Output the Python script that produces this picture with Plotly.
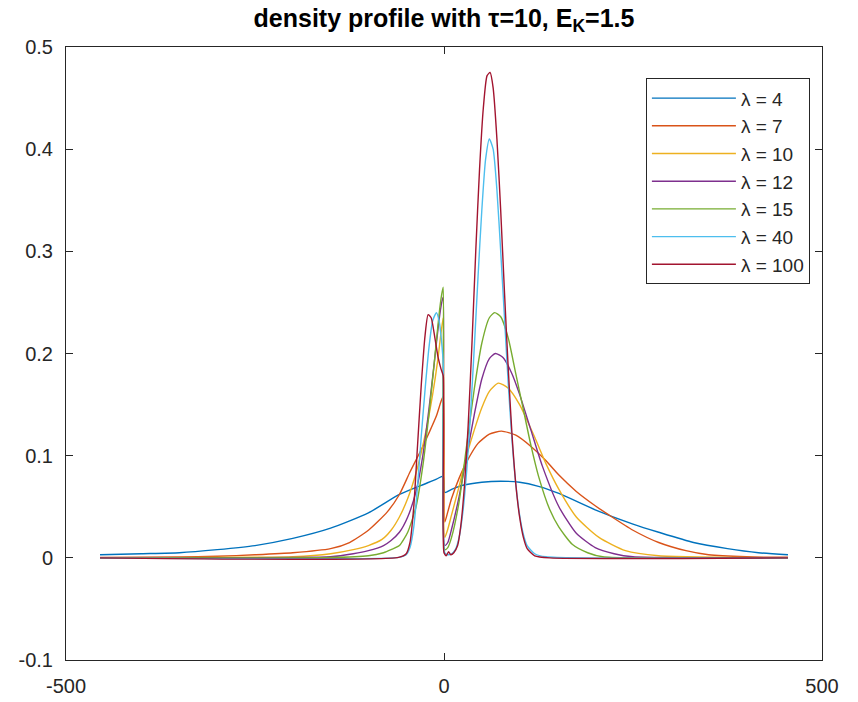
import plotly.graph_objects as go

# ---------------- data ----------------
labels = ["λ = 4", "λ = 7", "λ = 10", "λ = 12", "λ = 15", "λ = 40", "λ = 100"]
colors = ["#0072BD", "#D95319", "#EDB120", "#7E2F8E", "#77AC30", "#4DBEEE", "#A2142F"]

x_l4 = [-455, -400, -350, -300, -250, -200, -150, -100, -59, -30, -10, -1,
        1, 10, 25, 50, 75, 100, 125, 152, 200, 250, 284, 330, 375, 416, 455]
y_l4 = [0.003, 0.004, 0.005, 0.008, 0.012, 0.019, 0.029, 0.044, 0.062, 0.071, 0.077, 0.080,
        0.064, 0.067, 0.071, 0.074, 0.075, 0.074, 0.070, 0.063, 0.047, 0.033, 0.025, 0.015, 0.009, 0.005, 0.003]

x_l7 = [-455, -350, -300, -250, -200, -150, -125, -100, -75, -59, -45, -30, -20, -10, -4, -1,
        1, 5, 10, 20, 30, 45, 60, 76, 95, 115, 135, 152, 175, 200, 218, 250, 284, 320, 350, 400, 455]
y_l7 = [0.0003, 0.0008, 0.0015, 0.003, 0.005, 0.009, 0.015, 0.027, 0.045, 0.062, 0.084, 0.106, 0.122, 0.139, 0.153, 0.158,
        0.035, 0.045, 0.058, 0.078, 0.094, 0.112, 0.121, 0.124, 0.120, 0.109, 0.095, 0.081, 0.065, 0.051, 0.042, 0.027, 0.015, 0.007, 0.003, 0.001, 0.0005]

x_l10 = [-455, -250, -200, -150, -120, -100, -82, -70, -59, -48, -37, -25, -15, -8, -4, -1,
         1, 5, 10, 20, 30, 40, 50, 60, 72, 85, 100, 120, 135, 152, 175, 205, 240, 284, 455]
y_l10 = [0.0, 0.0005, 0.001, 0.004, 0.008, 0.012, 0.018, 0.027, 0.040, 0.058, 0.083, 0.120, 0.160, 0.195, 0.220, 0.235,
         0.020, 0.028, 0.042, 0.070, 0.100, 0.125, 0.147, 0.163, 0.171, 0.166, 0.150, 0.118, 0.092, 0.067, 0.040, 0.020, 0.007, 0.002, 0.0]

x_l12 = [-455, -200, -150, -120, -100, -80, -70, -59, -48, -37, -28, -20, -13, -7, -3, -1,
         1, 5, 10, 20, 30, 40, 50, 60, 68, 78, 90, 100, 115, 130, 152, 175, 200, 225, 250, 455]
y_l12 = [0.0, 0.0003, 0.001, 0.004, 0.007, 0.012, 0.017, 0.025, 0.040, 0.065, 0.100, 0.145, 0.190, 0.230, 0.250, 0.255,
         0.012, 0.015, 0.028, 0.060, 0.100, 0.140, 0.175, 0.195, 0.200, 0.196, 0.180, 0.160, 0.125, 0.090, 0.050, 0.024, 0.010, 0.004, 0.001, 0.0]

x_l15 = [-455, -150, -100, -80, -70, -59, -48, -37, -28, -20, -13, -7, -3, -1,
         1, 5, 10, 20, 30, 40, 50, 60, 67, 75, 85, 95, 105, 115, 125, 140, 152, 170, 190, 210, 455]
y_l15 = [0.0, 0.0003, 0.002, 0.005, 0.008, 0.012, 0.025, 0.050, 0.090, 0.140, 0.190, 0.235, 0.258, 0.265,
         0.008, 0.010, 0.020, 0.055, 0.110, 0.165, 0.210, 0.235, 0.240, 0.236, 0.215, 0.180, 0.145, 0.110, 0.080, 0.047, 0.030, 0.013, 0.005, 0.001, 0.0]

x_l40 = [-455, -60, -50, -45, -40, -35, -30, -25, -20, -15, -10, -6, -3, -1,
         1, 5, 10, 15, 20, 25, 30, 35, 40, 45, 50, 55, 60, 65, 70, 75, 80, 85, 90, 95, 100, 105, 110, 120, 135, 455]
y_l40 = [0.0, 0.0005, 0.003, 0.010, 0.030, 0.070, 0.120, 0.165, 0.205, 0.232, 0.240, 0.230, 0.210, 0.190,
         0.005, 0.003, 0.004, 0.008, 0.020, 0.045, 0.085, 0.140, 0.205, 0.275, 0.340, 0.390, 0.410, 0.400, 0.360, 0.300,
         0.235, 0.170, 0.115, 0.072, 0.042, 0.023, 0.012, 0.004, 0.001, 0.0]

x_l100 = [-455, -60, -50, -45, -40, -35, -30, -25, -21, -17, -12, -8, -4, -1,
          0, 3, 6, 9, 13, 18, 22, 27, 32, 37, 42, 47, 52, 57, 61, 65, 70, 75, 80, 85, 90, 95, 100, 105, 110, 120, 140, 455]
y_l100 = [0.0, 0.0005, 0.004, 0.015, 0.050, 0.110, 0.170, 0.218, 0.238, 0.235, 0.215, 0.197, 0.185, 0.178,
          0.005, 0.002, 0.006, 0.003, 0.005, 0.012, 0.030, 0.070, 0.130, 0.210, 0.300, 0.380, 0.440, 0.472, 0.475,
          0.460, 0.410, 0.340, 0.260, 0.185, 0.120, 0.072, 0.040, 0.020, 0.009, 0.002, 0.0, 0.0]

series_x = [x_l4, x_l7, x_l10, x_l12, x_l15, x_l40, x_l100]
series_y = [y_l4, y_l7, y_l10, y_l12, y_l15, y_l40, y_l100]

x_tick_vals = [-500, 0, 500]
x_tick_text = ["-500", "0", "500"]
y_tick_vals = [-0.1, 0.0, 0.1, 0.2, 0.3, 0.4, 0.5]
y_tick_text = ["-0.1", "0", "0.1", "0.2", "0.3", "0.4", "0.5"]

# ---------------- figure ----------------
FONT = "Liberation Sans, Arial, Helvetica, sans-serif"
AX = "#262626"

fig = go.Figure()
for i, (xs, ys) in enumerate(zip(series_x, series_y)):
    fig.add_trace(go.Scatter(
        x=xs, y=ys, mode="lines", name=labels[i],
        line=dict(color=colors[i], width=1.4, shape="spline", smoothing=0.6),
        legendgroup=f"g{i}",
    ))

fig.update_layout(
    width=858, height=702,
    margin=dict(l=66, r=36, t=47, b=42, autoexpand=False),
    paper_bgcolor="white", plot_bgcolor="white",
    font=dict(family=FONT, color=AX, size=19),
    title=dict(
        text="<b>density profile with τ=10, E<sub>K</sub>=1.5</b>",
        x=0.5, xref="paper", xanchor="center",
        y=0.974, yanchor="middle",
        font=dict(family=FONT, size=25, color="black"),
    ),
    showlegend=True,
    legend=dict(
        x=0.984, y=0.949, xanchor="right", yanchor="top",
        bgcolor="white", bordercolor=AX, borderwidth=1,
        font=dict(family=FONT, size=19, color=AX),
        tracegroupgap=0, itemwidth=84,
    ),
)
fig.update_xaxes(
    range=[-500, 500], tickvals=x_tick_vals, ticktext=x_tick_text,
    ticks="inside", ticklen=7, tickcolor=AX, tickwidth=1,
    showline=True, linecolor=AX, linewidth=1, mirror="allticks",
    showgrid=False, zeroline=False, ticklabelstandoff=8, automargin=False,
    tickfont=dict(family=FONT, size=20, color=AX),
)
fig.update_yaxes(
    range=[-0.1, 0.5], tickvals=y_tick_vals, ticktext=y_tick_text,
    ticks="inside", ticklen=7, tickcolor=AX, tickwidth=1,
    showline=True, linecolor=AX, linewidth=1, mirror="allticks",
    showgrid=False, zeroline=False, ticklabelstandoff=8, automargin=False,
    tickfont=dict(family=FONT, size=20, color=AX),
)

fig.write_html("out.html")
